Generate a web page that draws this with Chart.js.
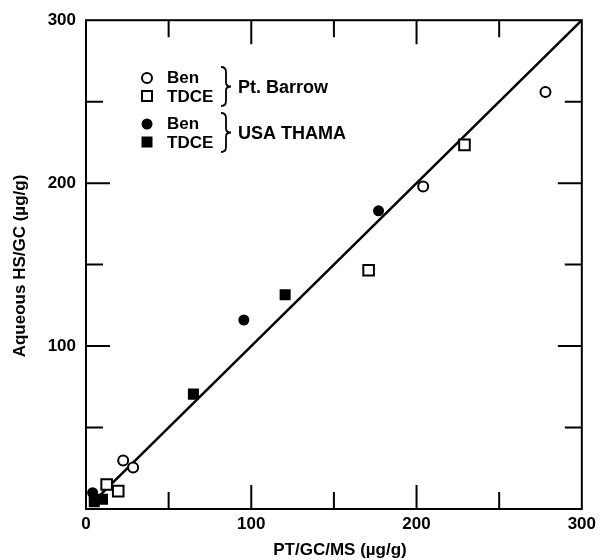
<!DOCTYPE html>
<html>
<head>
<meta charset="utf-8">
<script src="https://cdn.jsdelivr.net/npm/chart.js@4.4.1/dist/chart.umd.min.js"></script>
<style>
  html, body { margin: 0; padding: 0; background: #fff; }
  #wrap { width: 601px; height: 560px; position: relative; }
</style>
</head>
<body>
<div id="wrap"><canvas id="chart"></canvas></div>
<script>
// values (ug/g)
const benBarrowX = [22.5, 28.5, 204, 278];
const benBarrowY = [29.8, 25.5, 198, 256];
const tdceBarrowX = [12.5, 19.5, 171, 229];
const tdceBarrowY = [15, 11, 146.5, 223.5];
const benThamaX = [4, 95.5, 177];
const benThamaY = [10, 116, 183];
const tdceThamaX = [5, 10, 65, 120.5];
const tdceThamaY = [4.5, 6, 70.5, 131.5];
const fitX = [5, 300];
const fitY = [5, 300];
const tickValues = [0, 100, 200, 300];
const minorTicks = [50, 150, 250];

const FONT = '"Liberation Sans", Arial, sans-serif';
const pts = (xs, ys) => xs.map((x, i) => ({ x: x, y: ys[i] }));

// inward ticks, frame, axis titles and bracketed legend
const decor = {
  id: 'decor',
  afterDraw(chart) {
    const ctx = chart.ctx;
    const a = chart.chartArea;
    const xs = chart.scales.x;
    const ys = chart.scales.y;
    ctx.save();
    ctx.strokeStyle = '#000';
    ctx.lineWidth = 2;
    ctx.strokeRect(a.left, a.top, a.right - a.left, a.bottom - a.top);

    const drawTick = (v, len) => {
      const px = xs.getPixelForValue(v);
      const py = ys.getPixelForValue(v);
      ctx.beginPath();
      ctx.moveTo(px, a.bottom); ctx.lineTo(px, a.bottom - len);
      ctx.moveTo(px, a.top); ctx.lineTo(px, a.top + len);
      ctx.moveTo(a.left, py); ctx.lineTo(a.left + len, py);
      ctx.moveTo(a.right, py); ctx.lineTo(a.right - len, py);
      ctx.stroke();
    };
    [100, 200].forEach(v => drawTick(v, 24));
    minorTicks.forEach(v => drawTick(v, 17));

    // axis titles
    ctx.fillStyle = '#000';
    ctx.font = 'bold 17px ' + FONT;
    ctx.textAlign = 'center';
    ctx.textBaseline = 'middle';
    ctx.fillText('PT/GC/MS (\u00b5g/g)', 340, 550);
    ctx.save();
    ctx.translate(20, 266);
    ctx.rotate(-Math.PI / 2);
    ctx.fillText('Aqueous HS/GC (\u00b5g/g)', 0, 0);
    ctx.restore();

    // legend
    ctx.font = 'bold 17px ' + FONT;
    ctx.textAlign = 'left';
    ctx.lineWidth = 2;
    const sx = 147;
    ctx.beginPath(); ctx.arc(sx, 78, 5, 0, Math.PI * 2); ctx.stroke();
    ctx.strokeRect(sx - 5, 91, 10, 10);
    ctx.beginPath(); ctx.arc(sx, 124, 5.5, 0, Math.PI * 2); ctx.fill();
    ctx.fillRect(sx - 5.5, 136.5, 11, 11);
    ctx.fillText('Ben', 167, 78);
    ctx.fillText('TDCE', 167, 97);
    ctx.fillText('Ben', 167, 124);
    ctx.fillText('TDCE', 167, 143);
    ctx.font = 'bold 18px ' + FONT;
    ctx.fillText('Pt. Barrow', 238, 88);
    ctx.fillText('USA THAMA', 238, 134);

    const brace = (x, y0, y1) => {
      const m = (y0 + y1) / 2;
      ctx.beginPath();
      ctx.moveTo(x, y0);
      ctx.quadraticCurveTo(x + 5, y0, x + 5, y0 + 5);
      ctx.lineTo(x + 5, m - 4);
      ctx.quadraticCurveTo(x + 5, m, x + 10, m);
      ctx.quadraticCurveTo(x + 5, m, x + 5, m + 4);
      ctx.lineTo(x + 5, y1 - 5);
      ctx.quadraticCurveTo(x + 5, y1, x, y1);
      ctx.lineWidth = 1.8;
      ctx.stroke();
    };
    brace(221, 67, 106);
    brace(221, 113, 152);
    ctx.restore();
  }
};

new Chart(document.getElementById('chart'), {
  type: 'scatter',
  data: {
    datasets: [
      {
        label: 'Ben Pt. Barrow',
        data: pts(benBarrowX, benBarrowY),
        pointStyle: 'circle',
        pointRadius: 5,
        borderWidth: 2,
        borderColor: '#000',
        backgroundColor: '#fff'
      },
      {
        label: 'TDCE Pt. Barrow',
        data: pts(tdceBarrowX, tdceBarrowY),
        pointStyle: 'rect',
        pointRadius: 7.5,
        borderWidth: 2,
        borderColor: '#000',
        backgroundColor: '#fff'
      },
      {
        label: 'Ben USA THAMA',
        data: pts(benThamaX, benThamaY),
        pointStyle: 'circle',
        pointRadius: 5.5,
        borderWidth: 0,
        backgroundColor: '#000'
      },
      {
        label: 'TDCE USA THAMA',
        data: pts(tdceThamaX, tdceThamaY),
        pointStyle: 'rect',
        pointRadius: 7.8,
        borderWidth: 0,
        backgroundColor: '#000'
      },
      {
        type: 'line',
        label: 'fit',
        data: pts(fitX, fitY),
        borderColor: '#000',
        borderWidth: 2.5,
        pointRadius: 0,
        fill: false,
        order: 10
      }
    ]
  },
  options: {
    responsive: true,
    maintainAspectRatio: false,
    animation: false,
    layout: { padding: { top: 16, right: 18, left: 0, bottom: 0 } },
    plugins: {
      legend: { display: false },
      tooltip: { enabled: false }
    },
    scales: {
      x: {
        type: 'linear',
        min: 0,
        max: 300,
        afterFit: s => { s.height = 51; },
        afterBuildTicks: s => { s.ticks = tickValues.map(v => ({ value: v })); },
        grid: { display: false, drawTicks: false },
        border: { display: false },
        ticks: {
          padding: 5,
          color: '#000',
          font: { family: FONT, size: 17, weight: 'bold' }
        }
      },
      y: {
        type: 'linear',
        min: 0,
        max: 300,
        afterFit: s => { s.width = 86; },
        afterBuildTicks: s => { s.ticks = tickValues.filter(v => v > 0).map(v => ({ value: v })); },
        grid: { display: false, drawTicks: false },
        border: { display: false },
        ticks: {
          padding: 10,
          color: '#000',
          font: { family: FONT, size: 17, weight: 'bold' }
        }
      }
    }
  },
  plugins: [decor]
});
</script>
</body>
</html>
